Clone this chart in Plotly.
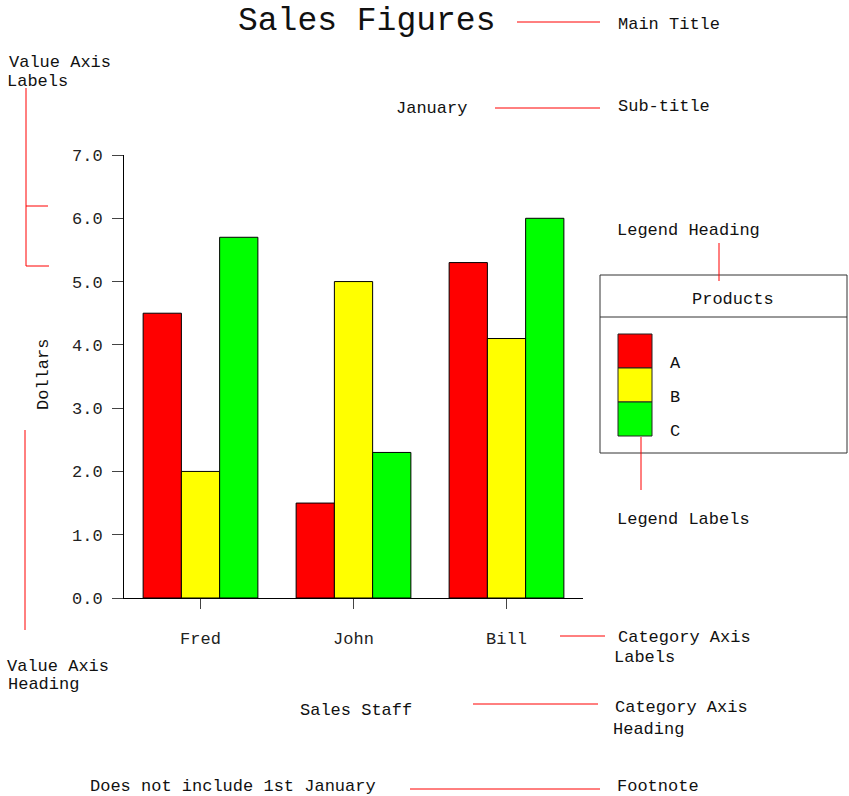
import plotly.graph_objects as go

# ---- data ----
staff = ["Fred", "John", "Bill"]
products = ["A", "B", "C"]
sales_a = [4.5, 1.5, 5.3]
sales_b = [2.0, 5.0, 4.1]
sales_c = [5.7, 2.3, 6.0]
colors = ["#ff0000", "#ffff00", "#00ff00"]
y_ticks = [0, 1, 2, 3, 4, 5, 6, 7]

title_text = "Sales Figures"
subtitle_text = "January"
y_title = "Dollars"
x_title = "Sales Staff"
footnote = "Does not include 1st January"
legend_title = "Products"

FONT = "Liberation Mono, Courier New, monospace"
W, H = 849, 796
L, R, T, B = 124, 583, 155, 598  # plot area in window pixels


def px(x):
    return (x - L) / (R - L)


def py(y):
    return (B - y) / (B - T)


fig = go.Figure()
for name, vals, col in zip(products, [sales_a, sales_b, sales_c], colors):
    fig.add_trace(go.Bar(x=staff, y=vals, name=name, marker=dict(color=col, line=dict(color="black", width=1)),
                         showlegend=False))

fig.update_layout(
    width=W, height=H,
    margin=dict(l=L, r=W - R, t=T, b=H - B, pad=0),
    paper_bgcolor="white", plot_bgcolor="white",
    barmode="group", bargap=0.25, bargroupgap=0,
    font=dict(family=FONT, size=17, color="#222"),
)
fig.update_xaxes(
    range=[-0.5, 2.5], showgrid=False, showline=True, linecolor="black", linewidth=1,
    ticks="outside", ticklen=10, tickcolor="#444", tickfont=dict(family=FONT, size=17, color="#222"),
    ticklabelstandoff=15, zeroline=False,
)
fig.update_yaxes(
    range=[0, 7], tickvals=y_ticks, tickformat=".1f", showgrid=False, showline=True,
    linecolor="black", linewidth=1, ticks="outside", ticklen=11, tickcolor="#444",
    tickfont=dict(family=FONT, size=17, color="#222"), ticklabelstandoff=6, zeroline=False,
)

ann = []


def text(x, y, s, size=17, xanchor="left", textangle=0):
    ann.append(dict(x=px(x), y=py(y), xref="paper", yref="paper", text=s, showarrow=False,
                    xanchor=xanchor, yanchor="middle", textangle=textangle,
                    font=dict(family=FONT, size=size, color="#111")))


text(366, 21, title_text, size=33, xanchor="center")
text(431, 108, subtitle_text, xanchor="center")
text(43, 375, y_title, xanchor="center", textangle=-90)
text(356, 710, x_title, xanchor="center")
text(233, 786, footnote, xanchor="center")
text(733, 299, legend_title, xanchor="center")

# explanatory labels
text(616, 25, "Main Title")
text(616, 106, "Sub-title")
text(615, 230, "Legend Heading")
text(615, 519, "Legend Labels")
text(616, 637, "Category Axis")
text(612, 657, "Labels")
text(613, 707, "Category Axis")
text(611, 729, "Heading")
text(615, 786, "Footnote")
text(7, 62, "Value Axis")
text(5, 81, "Labels")
text(5, 666, "Value Axis")
text(6, 684, "Heading")

shapes = []


def line(x0, y0, x1, y1, color="red"):
    shapes.append(dict(type="line", xref="paper", yref="paper", x0=px(x0), y0=py(y0), x1=px(x1), y1=py(y1),
                       line=dict(color=color, width=1)))


def rect(x0, y0, x1, y1, fill, color="black"):
    shapes.append(dict(type="rect", xref="paper", yref="paper", x0=px(x0), y0=py(y0), x1=px(x1), y1=py(y1),
                       fillcolor=fill, line=dict(color=color, width=1)))


# legend box
rect(600, 275, 847, 453, "rgba(0,0,0,0)", color="#333")
line(600, 317, 847, 317, color="#333")
for i, (name, col) in enumerate(zip(products, colors)):
    y0 = 334 + 34 * i
    rect(618, y0, 652, y0 + 34, col, color="#222")
    text(668, y0 + 29, name)

# pointer lines
line(517, 22, 600, 22)
line(495, 108, 600, 108)
line(719, 243, 719, 281)
line(641, 437, 641, 490)
line(560, 636, 605, 636)
line(473, 704, 598, 704)
line(410, 789, 600, 789)
line(26, 88, 26, 266)
line(26, 206, 48, 206)
line(26, 266, 49, 266)
line(25, 430, 25, 630)

fig.update_layout(annotations=ann, shapes=shapes)
fig.write_html("out.html", config={"displayModeBar": False},
               post_script="document.body.style.margin='0';document.body.style.overflow='hidden';")
